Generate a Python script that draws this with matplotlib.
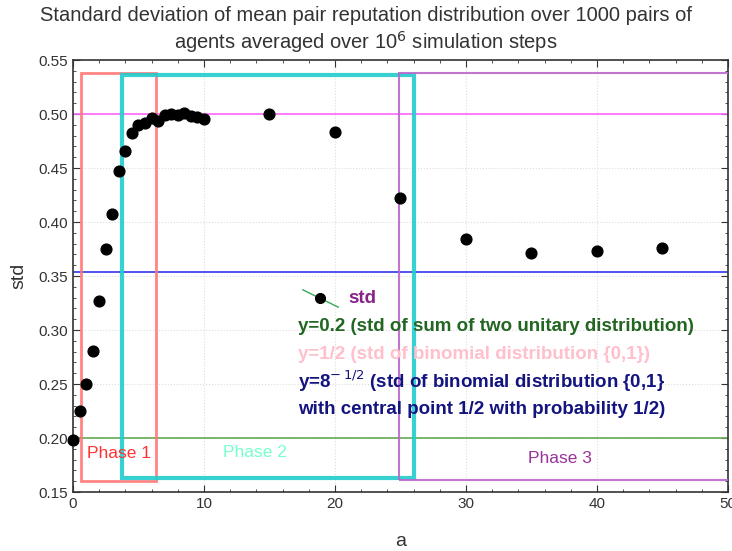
import numpy as np
import matplotlib
matplotlib.use("Agg")
from matplotlib import pyplot as plt
from matplotlib.patches import Rectangle
from matplotlib.lines import Line2D

plt.rcParams['font.family'] = ['Liberation Sans', 'DejaVu Sans']

# data
a = [0, 0.5, 1, 1.5, 2, 2.5, 3, 3.5, 4, 4.5, 5, 5.5, 6, 6.5, 7, 7.5, 8, 8.5, 9, 9.5, 10,
     15, 20, 25, 30, 35, 40, 45]
std = [0.198, 0.225, 0.250, 0.281, 0.327, 0.375, 0.407, 0.447, 0.466, 0.482, 0.490, 0.492,
       0.496, 0.494, 0.499, 0.500, 0.499, 0.501, 0.498, 0.497, 0.495,
       0.500, 0.483, 0.422, 0.384, 0.371, 0.373, 0.376]

ref_lines = [0.5, 8 ** -0.5, 0.2]
ref_colors = ['#ff66ff', '#3333ee', '#66aa55']

# phase boxes: (x0, x1, y0, y1)
phases = [(0.6, 6.3, 0.160, 0.538), (3.75, 26.0, 0.163, 0.536), (24.9, 52, 0.161, 0.538)]
phase_colors = ['#ff7777', '#22cccc', '#bb66cc']
phase_lw = [2.0, 3.0, 1.5]
phase_labels = ['Phase 1', 'Phase 2', 'Phase 3']
phase_label_pos = [(3.5, 0.186), (13.9, 0.187), (37.2, 0.181)]
phase_label_colors = ['#ff3333', '#77ffcc', '#993399']

legend_lines = ['y=0.2 (std of sum of two unitary distribution)',
                'y=1/2 (std of binomial distribution {0,1})',
                r'y=8$^{-\,1/2}$ (std of binomial distribution {0,1}',
                'with central point 1/2 with probability 1/2)']
legend_colors = ['#226622', '#ffc0cb', '#141480', '#141480']
legend_y = [0.384, 0.319, 0.257, 0.190]

fig = plt.figure(figsize=(7.32, 5.51), dpi=100)
ax = fig.add_axes([0.0997, 0.107, 0.8948, 0.784])

ax.set_xlim(0, 50)
ax.set_ylim(0.15, 0.55)
ax.set_xticks(np.arange(0, 51, 10))
ax.set_yticks(np.arange(0.15, 0.551, 0.05))
ax.set_xticks(np.arange(0, 51, 2), minor=True)
ax.set_yticks(np.arange(0.15, 0.551, 0.01), minor=True)
ax.set_yticklabels(['%.2f' % v for v in np.arange(0.15, 0.551, 0.05)])
ax.tick_params(which='both', direction='in', top=True, right=True, labelsize=11, colors='#333333')
ax.tick_params(which='major', length=5)
ax.tick_params(which='minor', length=2.5)
ax.grid(True, which='major', color='#dddddd', linestyle=':', linewidth=0.8)
for s in ax.spines.values():
    s.set_linewidth(1.2)
    s.set_color('#333333')

for y, c in zip(ref_lines, ref_colors):
    ax.axhline(y, color=c, linewidth=1.2, zorder=2)

for (x0, x1, y0, y1), c, lw in zip(phases, phase_colors, phase_lw):
    ax.add_patch(Rectangle((x0, y0), x1 - x0, y1 - y0, fill=False, edgecolor=c,
                           linewidth=lw, alpha=0.9, zorder=3, clip_on=True))

for lab, (x, y), c in zip(phase_labels, phase_label_pos, phase_label_colors):
    ax.text(x, y, lab, color=c, fontsize=12.5, ha='center', va='center')

ax.scatter(a, std, s=60, color='black', zorder=5, clip_on=False)

# legend-like block
ax.add_line(Line2D([0.351, 0.405], [0.468, 0.428], transform=ax.transAxes, color='#33aa55', linewidth=1))
ax.plot([0.377], [0.449], 'o', color='black', markersize=7, transform=ax.transAxes)
ax.text(0.42, 0.449, 'std', transform=ax.transAxes, color='#882288', fontsize=13.5,
        fontweight='bold', va='center')
for txt, c, y in zip(legend_lines, legend_colors, legend_y):
    ax.text(0.344, y, txt, transform=ax.transAxes, color=c, fontsize=13.5,
            fontweight='bold', va='center')

ax.set_xlabel('a', fontsize=14, color='#333333', labelpad=16)
ax.set_ylabel('std', fontsize=14, color='#333333', labelpad=8)
fig.text(0.5, 0.944, 'Standard deviation of mean pair reputation distribution over 1000 pairs of\n'
         r'agents averaged over 10$^6$ simulation steps', ha='center', va='center',
         fontsize=14.5, color='#333333', linespacing=1.2)

fig.savefig('out.png', dpi=100)
